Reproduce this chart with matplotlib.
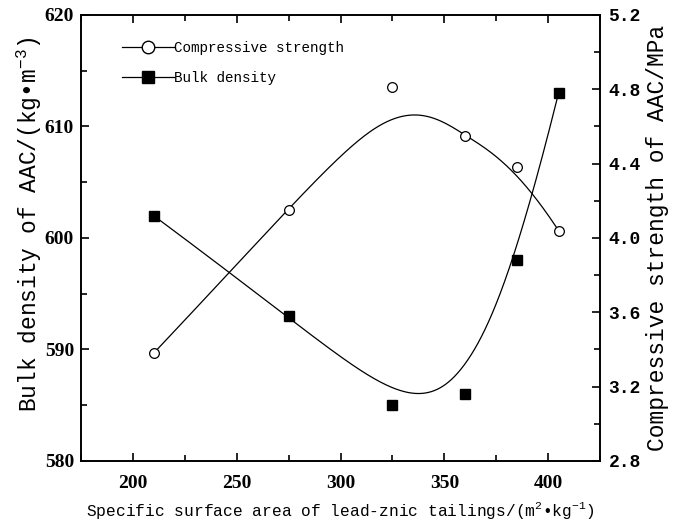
import numpy as np
import matplotlib
matplotlib.use("Agg")
import matplotlib.pyplot as plt
from matplotlib.ticker import MultipleLocator, FormatStrFormatter

plt.rcParams['font.family'] = ['Liberation Mono', 'DejaVu Sans']
plt.rcParams['mathtext.fontset'] = 'custom'
plt.rcParams['mathtext.rm'] = 'Liberation Mono'

# specific surface area of tailings (m2/kg)
surface_area = [210, 275, 325, 360, 385, 405]
# bulk density of AAC (kg/m3)
bulk_density = [602, 593, 585, 586, 598, 613]
# compressive strength of AAC (MPa)
strength = [3.38, 4.15, 4.81, 4.55, 4.38, 4.04]


def bspline(px, py, k=3, n=400):
    # clamped B-spline using the data points as control points
    px = np.asarray(px, float)
    py = np.asarray(py, float)
    m = len(px)
    knots = np.concatenate([np.zeros(k), np.linspace(0, 1, m - k + 1), np.ones(k)])
    t = np.linspace(0, 1 - 1e-9, n)

    def basis(i, p):
        if p == 0:
            return np.where((knots[i] <= t) & (t < knots[i + 1]), 1.0, 0.0)
        out = np.zeros_like(t)
        d1 = knots[i + p] - knots[i]
        d2 = knots[i + p + 1] - knots[i + 1]
        if d1 > 0:
            out += (t - knots[i]) / d1 * basis(i, p - 1)
        if d2 > 0:
            out += (knots[i + p + 1] - t) / d2 * basis(i + 1, p - 1)
        return out

    B = np.array([basis(i, k) for i in range(m)])
    return B.T @ px, B.T @ py


fig = plt.figure(figsize=(6.75, 5.26), dpi=100)
ax = fig.add_axes([0.12, 0.1236, 0.769, 0.848])
ax2 = ax.twinx()

dx, dy = bspline(surface_area, bulk_density)
sx, sy = bspline(surface_area, strength)

ax.plot(dx, dy, color='black', lw=0.9)
ax.plot(surface_area, bulk_density, 's', color='black', ms=7, ls='none')
ax2.plot(sx, sy, color='black', lw=0.9)
ax2.plot(surface_area, strength, 'o', mfc='white', mec='black', ms=7, mew=0.9, ls='none')

ax.set_xlim(175, 425)
ax.set_ylim(580, 620)
ax2.set_ylim(2.8, 5.2)

ax.xaxis.set_major_locator(MultipleLocator(50))
ax.xaxis.set_minor_locator(MultipleLocator(25))
ax.yaxis.set_major_locator(MultipleLocator(10))
ax.yaxis.set_minor_locator(MultipleLocator(5))
ax2.yaxis.set_major_locator(MultipleLocator(0.4))
ax2.yaxis.set_minor_locator(MultipleLocator(0.2))
ax2.yaxis.set_major_formatter(FormatStrFormatter('%.1f'))

ax.tick_params(axis='both', which='both', direction='in', top=True, width=1.2)
ax.tick_params(axis='x', which='major', length=6, pad=10)
ax.tick_params(axis='x', which='minor', length=4)
ax.tick_params(axis='y', which='major', length=6, pad=5)
ax.tick_params(axis='y', which='minor', length=4)
ax2.tick_params(axis='y', which='both', direction='in', width=1.2)
ax2.tick_params(axis='y', which='major', length=6, pad=6)
ax2.tick_params(axis='y', which='minor', length=4)
for lbl in ax.get_xticklabels() + ax.get_yticklabels():
    lbl.set_fontfamily('Liberation Serif')
    lbl.set_fontweight('bold')
    lbl.set_fontsize(14)
for lbl in ax2.get_yticklabels():
    lbl.set_fontweight('bold')
    lbl.set_fontsize(13)
for a in (ax, ax2):
    for s in a.spines.values():
        s.set_linewidth(1.2)

ax.set_xlabel('Specific surface area of lead-znic tailings/(m$^2$\u2022kg$^{-1}$)',
              fontsize=11.7, labelpad=6)
ax.set_ylabel('Bulk density of AAC/(kg\u2022m$^{-3}$)', fontsize=16.5)
ax.yaxis.set_label_coords(-0.072, 0.53)
ax2.set_ylabel('Compressive strength of AAC/MPa', fontsize=16.5, labelpad=4)

# legend handles: line with marker in the middle
h1, = ax.plot([], [], color='black', lw=0.9, marker='o', mfc='white', mec='black', ms=9)
h2, = ax.plot([], [], color='black', lw=0.9, marker='s', ms=9)
ax.legend([h1, h2], ['Compressive strength', 'Bulk density'], loc='upper left',
          bbox_to_anchor=(0.055, 0.97), frameon=False, fontsize=10.3, handlelength=3.6,
          handletextpad=0.0, labelspacing=1.1)

fig.savefig('out.png', dpi=100)
